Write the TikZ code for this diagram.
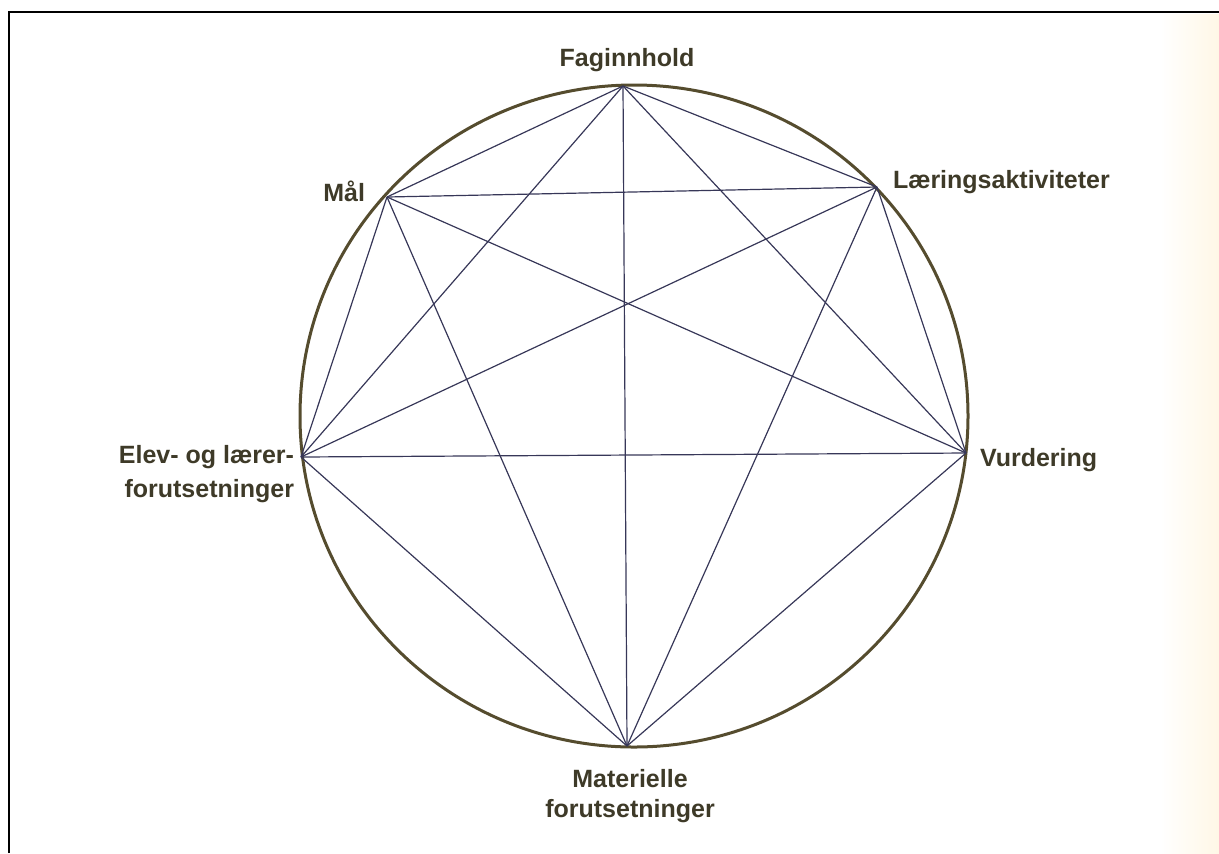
\documentclass[tikz,border=0pt]{standalone}
\usepackage{fontspec}
\setmainfont{Liberation Sans}
\definecolor{txtcol}{RGB}{62,58,40}
\definecolor{circcol}{RGB}{85,76,46}
\definecolor{edgecol}{RGB}{55,55,88}
\definecolor{cream}{RGB}{255,247,230}
\tikzset{
  lbl/.style={inner sep=0pt, outer sep=0pt, text=txtcol, font=\bfseries\fontsize{12.5pt}{17pt}\selectfont},
  edge/.style={draw=edgecol, line width=0.6pt},
  rim/.style={draw=circcol, line width=1.5pt},
  frame/.style={draw=black, line width=1.3pt}
}
\begin{document}
\begin{tikzpicture}[x=0.5pt,y=-0.5pt]
\useasboundingbox (0,0) rectangle (1219,853);
\shade[left color=white, right color=cream, draw=none] (1160,14) rectangle (1219,853);
% frame
\coordinate (fTL) at (9,12);
\coordinate (fTR) at (1219,12);
\coordinate (fBL) at (9,853);
\draw[frame] (fBL) -- (fTL) -- (fTR);
% circle
\draw[rim] (634,416) ellipse [x radius=334, y radius=331];
% vertices
\coordinate (F) at (623,86);
\coordinate (L) at (877,187);
\coordinate (V) at (966,453);
\coordinate (M) at (627,746);
\coordinate (E) at (301,457);
\coordinate (A) at (387,197);
% edges (complete graph)
\foreach \p/\q in {F/L,F/V,F/M,F/E,F/A,L/V,L/M,L/E,L/A,V/M,V/E,V/A,M/E,M/A,E/A}
  \draw[edge] (\p) -- (\q);
% labels
\node[lbl, anchor=base] (tF) at (627,66) {Faginnhold};
\node[lbl, anchor=base east] (tA) at (365,201) {Mål};
\node[lbl, anchor=base west] (tL) at (893,188) {Læringsaktiviteter};
\node[lbl, anchor=base west] (tV) at (980,466) {Vurdering};
\node[lbl, anchor=east, align=right] (tE) at (294,474) {Elev- og lærer-\\forutsetninger};
\node[lbl, anchor=north, align=center, font=\bfseries\fontsize{12.5pt}{15pt}\selectfont] (tM) at (630,769) {Materielle\\forutsetninger};
\end{tikzpicture}
\end{document}
